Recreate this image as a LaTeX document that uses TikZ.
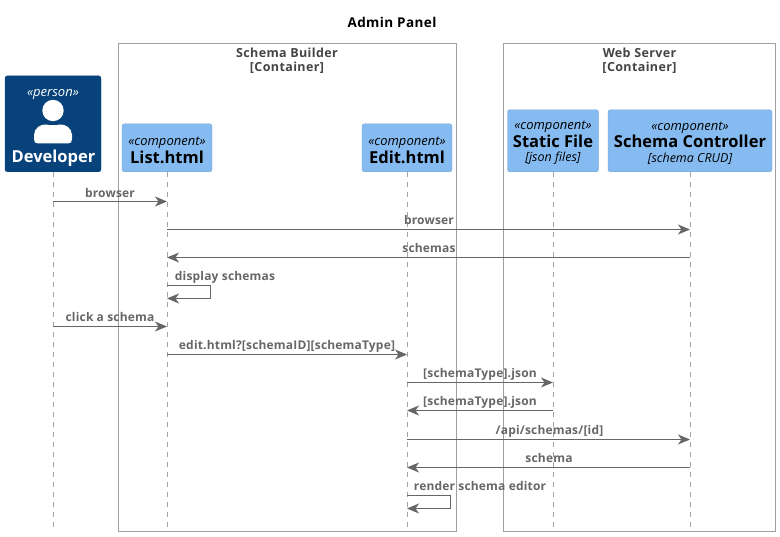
\documentclass[tikz,border=0pt]{standalone}
\usepackage{fontspec}
\setmainfont{Open Sans}
\newfontfamily\lblfont[LetterSpace=1.5,BoldFont={Open Sans Bold}]{Open Sans}
\newfontfamily\headfont[LetterSpace=3,BoldFont={Open Sans Bold}]{Open Sans}
\usetikzlibrary{arrows.meta,calc}
\definecolor{devblue}{HTML}{08427B}
\definecolor{compblue}{HTML}{85BBF0}
\definecolor{boxline}{HTML}{A0A0A0}
\definecolor{msggray}{HTML}{666666}
\definecolor{headgray}{HTML}{444444}
\newcommand{\stereo}[1]{{\fontsize{13}{14}\selectfont\itshape «#1»}}
\newcommand{\bigname}[1]{{\fontsize{16.5}{20}\selectfont\bfseries #1}}
\newcommand{\techname}[1]{{\fontsize{12.5}{14}\selectfont\itshape [#1]}}
\newcommand{\toppad}[1]{\rule{0pt}{#1}}
\tikzset{
  x=1pt,y=-1pt,
  comp/.style={fill=compblue,draw=compblue!85!black,line width=.4pt,rounded corners=2.5pt,inner sep=0pt,align=center,text=black,anchor=south,minimum height=#1},
  comp/.default=48pt,
  container/.style={draw=boxline,line width=1pt,fill=none},
  conthead/.style={text=headgray,font=\headfont\fontsize{12.5}{13.8}\selectfont\bfseries,align=center,inner sep=0pt},
  lifeline/.style={draw=msggray!60,line width=.8pt,dash pattern=on 5pt off 5pt},
  msg/.style={draw=msggray,line width=1pt,-{Stealth[length=12pt,width=10pt,inset=3.5pt,fill=msggray]}},
  msglabel/.style={text=msggray,font=\lblfont\fontsize{12}{14}\selectfont\bfseries,inner sep=0pt,anchor=base},
}
\begin{document}
\begin{tikzpicture}
\useasboundingbox (0,0) rectangle (780,537);
\node[font=\headfont\fontsize{13.5}{16}\selectfont\bfseries,inner sep=0pt,anchor=base] (title) at (392,28) {Admin Panel};

% containers
\node[container,minimum width=338pt,minimum height=487pt,inner sep=0pt,anchor=north west] (builder) at (118,43.5) {};
\node[container,minimum width=272pt,minimum height=487pt,inner sep=0pt,anchor=north west] (server) at (503,43.5) {};
\node[conthead,anchor=north] (builderhead) at (287,48) {Schema Builder\\{}[Container]};
\node[conthead,anchor=north] (serverhead) at (639.5,48) {Web Server\\{}[Container]};

% end of lifelines
\coordinate (lifeend) at (0,527);
% participants
\node[comp=96pt,fill=devblue,draw=devblue,minimum width=96pt] (dev) at (53,172) {};
\node[text=white,inner sep=0pt,anchor=base] (devstereo) at (53,97) {\stereo{person}};
\fill[white] (53,110.5) circle (10.7);
\fill[white] (38,143.5) .. controls (35,143.5) and (34,142) .. (34,139) -- (34,135) .. controls (34,128) and (41,124) .. (46,124.5) .. controls (50,125.5) and (56,125.5) .. (60,124.5) .. controls (65,124) and (72,128) .. (72,135) -- (72,139) .. controls (72,142) and (71,143.5) .. (68,143.5) -- cycle;
\node[text=white,inner sep=0pt,anchor=base] (devname) at (53.5,163) {\bigname{Developer}};
\node[comp=48pt,minimum width=90pt] (list) at (167,172) {\toppad{13pt}\stereo{component}\\[1.5pt]\bigname{List.html}};
\node[comp=48pt,minimum width=90pt] (edit) at (407,172) {\toppad{13pt}\stereo{component}\\[1.5pt]\bigname{Edit.html}};
\node[comp=62pt,minimum width=91pt] (static) at (553,172) {\toppad{13pt}\stereo{component}\\[1pt]\bigname{Static File}\\[2.5pt]\techname{json files}};
\node[comp=62pt,minimum width=164pt] (ctrl) at (690,172) {\toppad{13pt}\stereo{component}\\[1pt]\bigname{Schema Controller}\\[2.5pt]\techname{schema CRUD}};

% lifelines
\foreach \p in {dev,list,edit,static,ctrl}{
  \draw[lifeline] (\p.south) -- (\p.south |- lifeend);
}

% message rows
\coordinate (m1) at (0,201.5);
\coordinate (m2) at (0,229.5);
\coordinate (m3) at (0,257.5);
\coordinate (m4) at (0,285.5);
\coordinate (m4b) at (0,298.5);
\coordinate (m5) at (0,326.5);
\coordinate (m6) at (0,354.5);
\coordinate (m7) at (0,382.5);
\coordinate (m8) at (0,410.5);
\coordinate (m9) at (0,439.5);
\coordinate (m10) at (0,467.5);
\coordinate (m11) at (0,495.5);
\coordinate (m11b) at (0,508.5);

\draw[msg] (dev.south |- m1) -- (list.south |- m1);
\draw[msg] (list.south |- m2) -- (ctrl.south |- m2);
\draw[msg] (ctrl.south |- m3) -- (list.south |- m3);
\draw[msg] (list.south |- m4) -- ++(43,0) -- ++(0,13) -- (list.south |- m4b);
\draw[msg] (dev.south |- m5) -- (list.south |- m5);
\draw[msg] (list.south |- m6) -- (edit.south |- m6);
\draw[msg] (edit.south |- m7) -- (static.south |- m7);
\draw[msg] (static.south |- m8) -- (edit.south |- m8);
\draw[msg] (edit.south |- m9) -- (ctrl.south |- m9);
\draw[msg] (ctrl.south |- m10) -- (edit.south |- m10);
\draw[msg] (edit.south |- m11) -- ++(43,0) -- ++(0,13) -- (edit.south |- m11b);

\node[msglabel] (l1) at (110,197.3) {browser};
\node[msglabel] (l2) at (429,225) {browser};
\node[msglabel] (l3) at (429,253) {schemas};
\node[msglabel] (l4) at (225,281) {display schemas};
\node[msglabel] (l5) at (110,322) {click a schema};
\node[msglabel] (l6) at (287,350) {edit.html?[schemaID][schemaType]};
\node[msglabel] (l7) at (480,378) {[schemaType].json};
\node[msglabel] (l8) at (480,406) {[schemaType].json};
\node[msglabel] (l9) at (549.5,435) {/api/schemas/[id]};
\node[msglabel] (l10) at (549,463) {schema};
\node[msglabel] (l11) at (480,491) {render schema editor};
\end{tikzpicture}
\end{document}
